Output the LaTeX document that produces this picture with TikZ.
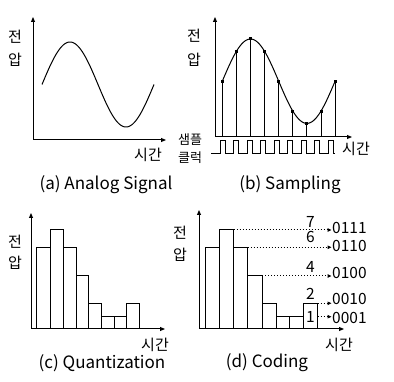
\documentclass[tikz,border=0pt]{standalone}
\usepackage{fontspec}
\setmainfont{Noto Sans CJK KR}
\usetikzlibrary{arrows.meta}
\begin{document}
\begin{tikzpicture}[x=1pt,y=-1pt,
  axis/.style={line width=1pt,-{Triangle[length=5pt,width=4pt]}},
  ln/.style={line width=1pt},
  dotarrow/.style={line width=1pt,dash pattern=on 1pt off 2pt,-{Triangle[length=4pt,width=3.5pt]}},
  lbl/.style={font=\fontsize{15}{15}\selectfont,inner sep=0pt},
  slbl/.style={font=\fontsize{13}{13}\selectfont,inner sep=0pt},
  captxt/.style={font=\fontsize{17}{17}\selectfont,inner sep=0pt},
  num/.style={font=\fontsize{15.5}{15.5}\selectfont,inner sep=0pt},
  sq/.style={fill=black,inner sep=0pt,minimum size=3pt}]
\useasboundingbox (0,0) rectangle (394,382);
% ---------- (a) ----------
\coordinate (a0) at (33,140);
\coordinate (ay) at (33,17);
\coordinate (ax) at (166,140);
\draw[axis] (a0) -- (ay);
\draw[axis] (a0) -- (ax);
\draw[ln] plot[domain=42:154,samples=90,smooth] (\x,{84.5-42.5*sin(3.2142857*(\x-42))});
\node[lbl] (av1) at (15,37) {전};
\node[lbl] (av2) at (15,60) {압};
\node[lbl] (at) at (148,155) {시간};
\node[captxt] (acap) at (106,185) {(a) Analog Signal};
% ---------- (b) ----------
\coordinate (b0) at (215,137);
\coordinate (by) at (215,17);
\coordinate (bx) at (352,137);
\draw[axis] (b0) -- (by);
\draw[axis] (b0) -- (bx);
\draw[ln] plot[domain=222.3:335.1,samples=90,smooth] (\x,{81.2-42.2*sin(3.1914894*(\x-222.3))});
\foreach \i in {0,...,8}{
  \pgfmathsetmacro{\sx}{222.3+14.1*\i}
  \pgfmathsetmacro{\sy}{81.2-42.2*sin(45*\i)}
  \coordinate (sb\i) at (\sx,137);
  \node[sq] (sp\i) at (\sx,\sy) {};
  \draw[ln] (sb\i) -- (sp\i.center);
}
\draw[ln] (211,153.7) foreach \k in {0,...,8}{
  -- ({220+13.54*\k},153.7) -- ({220+13.54*\k},141) -- ({225+13.54*\k},141) -- ({225+13.54*\k},153.7)} -- (335,153.7);
\node[lbl] (bv1) at (194,36) {전};
\node[lbl] (bv2) at (194,60) {압};
\node[slbl] (bc1) at (190,140) {샘플};
\node[slbl] (bc2) at (190,158) {클럭};
\node[lbl] (bt) at (356,149) {시간};
\node[captxt] (bcap) at (290,185) {(b) Sampling};
% ---------- (c) ----------
\coordinate (c0) at (31,329);
\coordinate (cy) at (31,213);
\coordinate (cx) at (165,329);
\draw[axis] (c0) -- (cy);
\draw[axis] (c0) -- (cx);
\foreach \l/\r/\t in {36.7/50/247.3,50/63.3/230,63.3/76/247.3,76/88.7/276,88.7/101.7/303.3,101.7/114.3/316.7,114.3/126.7/316.7,126.7/139.3/303.3}{
  \draw[ln] (\l,329) rectangle (\r,\t);
}
\node[lbl] (cv1) at (15,242) {전};
\node[lbl] (cv2) at (15,263) {압};
\node[lbl] (ct) at (155,345) {시간};
\node[captxt] (ccap) at (102,363) {(c) Quantization};
% ---------- (d) ----------
\coordinate (d0) at (199,329);
\coordinate (dy) at (199,210);
\coordinate (dx) at (344,329);
\draw[axis] (d0) -- (dy);
\draw[axis] (d0) -- (dx);
\foreach \n/\l/\r/\t in {1/205.3/219.7/247.3,2/219.7/233.7/230,3/233.7/247.7/247.3,4/247.7/262/276,5/262/276/303.3,6/276/289.7/316.7,7/289.7/303.7/316.7,8/303.7/317.7/303.3}{
  \draw[ln] (\l,329) rectangle (\r,\t);
  \coordinate (tr\n) at (\r,\t);
}
\coordinate (q1) at (317.7,316.7);
\coordinate (e7) at (331.5,230);
\coordinate (e6) at (331.5,247.3);
\coordinate (e4) at (331.5,276);
\coordinate (e2) at (331.5,303.3);
\coordinate (e1) at (331.5,316.7);
\draw[dotarrow] (tr2) -- (e7);
\draw[dotarrow] (tr3) -- (e6);
\draw[dotarrow] (tr4) -- (e4);
\draw[dotarrow] (tr8) -- (e2);
\draw[dotarrow] (q1) -- (e1);
\node[num] (l7) at (310.3,221.7) {7};
\node[num] (l6) at (310.3,237.3) {6};
\node[num] (l4) at (310.3,266.7) {4};
\node[num] (l2) at (310.3,294) {2};
\node[num] (l1) at (310.3,316.7) {1};
\node[num,anchor=west] (b7) at (332,227.5) {0111};
\node[num,anchor=west] (b6) at (332,246) {0110};
\node[num,anchor=west] (b4) at (332,272.5) {0100};
\node[num,anchor=west] (b2) at (332,299) {0010};
\node[num,anchor=west] (b1) at (332,318.3) {0001};
\node[lbl] (dv1) at (180,233) {전};
\node[lbl] (dv2) at (180,255) {압};
\node[lbl] (dt) at (339,345) {시간};
\node[captxt] (dcap) at (267,363) {(d) Coding};
\end{tikzpicture}
\end{document}
